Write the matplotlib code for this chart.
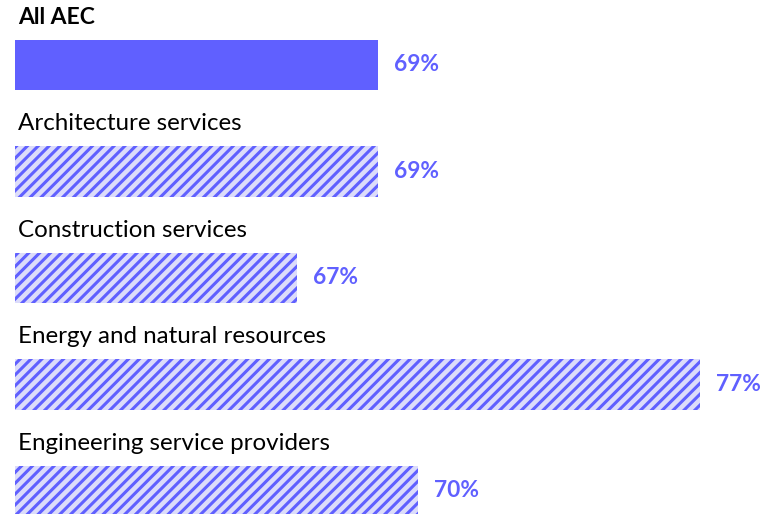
import matplotlib.pyplot as plt

plt.rcParams['font.family'] = ['Lato', 'DejaVu Sans']
plt.rcParams['hatch.linewidth'] = 1.7

categories = ["All AEC", "Architecture services", "Construction services",
              "Energy and natural resources", "Engineering service providers"]
values = [69, 69, 67, 77, 70]
labels = ["69%", "69%", "67%", "77%", "70%"]

purple = "#6060ff"
light = "#dcdcfa"
base = 60

dpi = 130
fig = plt.figure(figsize=(777 / dpi, 514 / dpi), dpi=dpi)
ax = fig.add_axes([0, 0, 1, 1])

for i, v in enumerate(values):
    if i == 0:
        ax.barh(i, v - base, left=base, height=0.47, color=purple, linewidth=0)
    else:
        ax.barh(i, v - base, left=base, height=0.47, color=light,
                edgecolor=purple, hatch='////', linewidth=0)
    ax.annotate(labels[i], xy=(v, i), xytext=(9, 0), textcoords='offset points',
                ha='left', va='center', fontsize=12.6, fontweight='bold', color=purple)
    ax.annotate(categories[i], xy=(base, i - 0.45), xytext=(1.5, 0),
                textcoords='offset points', ha='left', va='center',
                fontsize=12.7 if i == 0 else 13.4,
                fontweight='bold' if i == 0 else 'normal', color='black')

ax.set_xlim(59.628, 78.91)
ax.set_ylim(4.216, -0.610)
ax.axis('off')

fig.savefig("out.png", dpi=dpi)
